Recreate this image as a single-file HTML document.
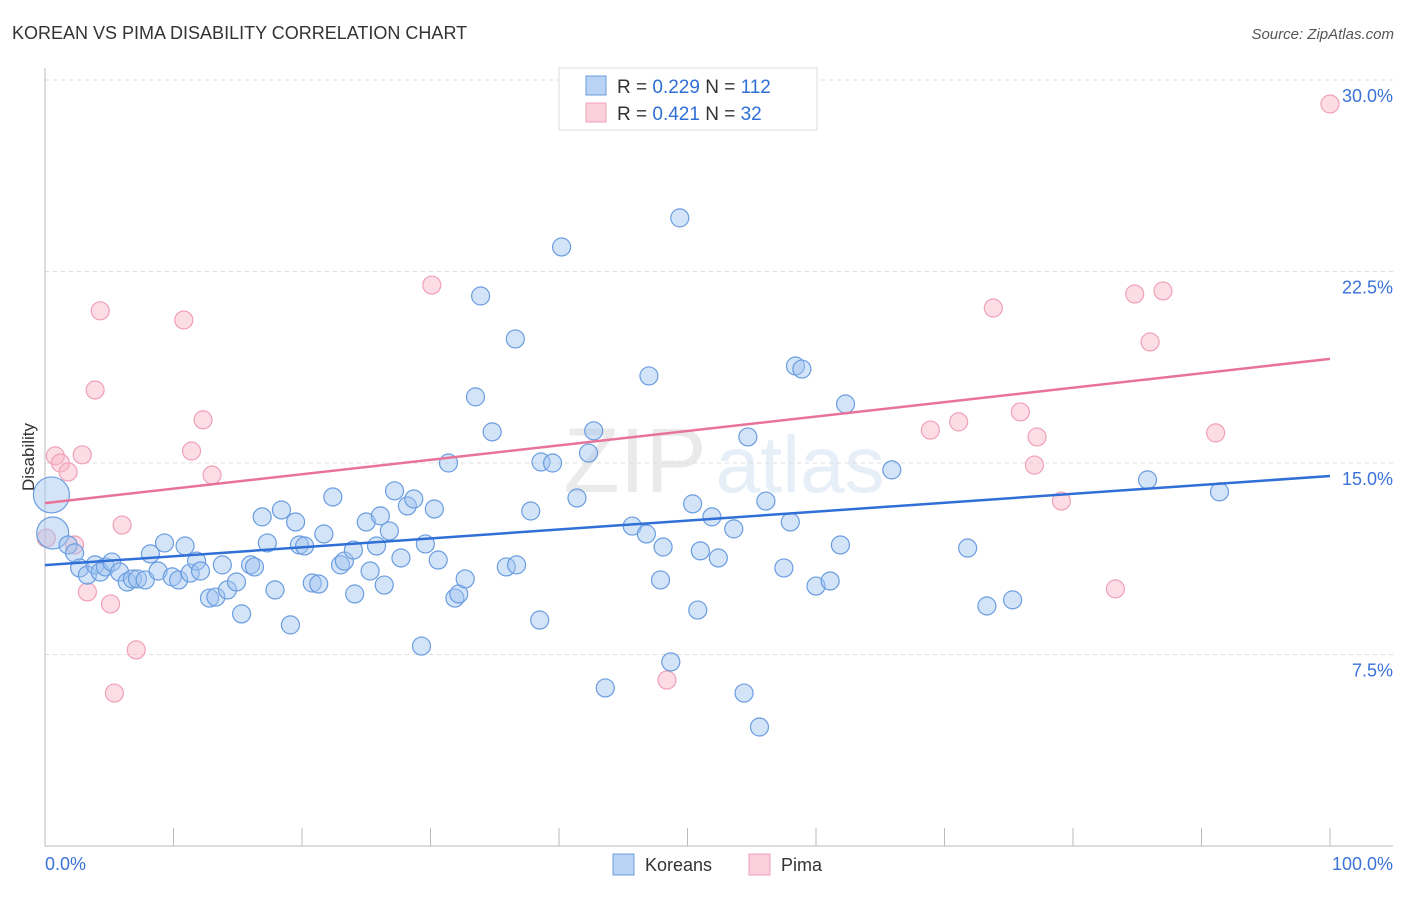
<!DOCTYPE html>
<html><head><meta charset="utf-8"><style>
body{margin:0;background:#fff;font-family:"Liberation Sans",sans-serif}
svg text{font-family:"Liberation Sans",sans-serif}
</style></head><body>
<svg id="chart" width="1406" height="892">
<text x="12" y="39" font-size="18" fill="#333">KOREAN VS PIMA DISABILITY CORRELATION CHART</text>
<text x="1394" y="39" font-size="15" fill="#555" text-anchor="end" font-style="italic">Source: ZipAtlas.com</text>
<g opacity="0.13">
<text x="635" y="492" font-size="92" font-family="Liberation Serif" fill="#666" text-anchor="middle">ZIP</text>
<text x="800" y="492" font-size="80" fill="#4a7fd0" text-anchor="middle">atlas</text>
</g>
<g id="grid"></g>
<g id="axes"></g>
<g id="marks"></g>
<text x="34" y="457" font-size="17" fill="#333" text-anchor="middle" transform="rotate(-90 34 457)">Disability</text>
<text x="45" y="870" font-size="18" fill="#3b72d9">0.0%</text>
<text x="1393" y="870" font-size="18" fill="#3b72d9" text-anchor="end">100.0%</text>
<g>
<rect x="559" y="68" width="258" height="62" fill="#fff" stroke="#ddd"/>
<rect x="586" y="76" width="20" height="19" fill="#b9d3f5" stroke="#6a9de0"/>
<text x="617" y="93" font-size="19" fill="#333">R = <tspan fill="#2f6fd6">0.229</tspan>   N = <tspan fill="#2f6fd6">112</tspan></text>
<rect x="586" y="103" width="20" height="19" fill="#fbd0dd" stroke="#f0a0b8"/>
<text x="617" y="120" font-size="19" fill="#333">R = <tspan fill="#2f6fd6"> 0.421</tspan>   N = <tspan fill="#2f6fd6"> 32</tspan></text>
</g>
<g>
<rect x="613" y="854" width="21" height="21" fill="#b9d3f5" stroke="#6a9de0"/>
<text x="645" y="871" font-size="18" fill="#333">Koreans</text>
<rect x="749" y="854" width="21" height="21" fill="#fbd0dd" stroke="#f0a0b8"/>
<text x="781" y="871" font-size="18" fill="#333">Pima</text>
</g>
</svg>
<script>
const koreansX=[0.5,0.6,1.8,2.3,2.7,3.3,3.9,4.3,4.7,5.2,5.8,6.4,6.8,7.2,7.8,8.2,8.8,9.3,9.9,10.4,10.9,11.3,11.8,12.1,12.8,13.3,13.8,14.2,14.9,15.3,16.0,16.3,16.9,17.3,17.9,18.4,19.1,19.5,19.8,20.2,20.8,21.3,21.7,22.4,23.0,23.3,24.0,24.1,25.0,25.3,25.8,26.1,26.4,26.8,27.2,27.7,28.2,28.7,29.3,29.6,30.3,30.6,31.4,31.9,32.2,32.7,33.5,33.9,34.8,35.9,36.6,36.7,37.8,38.5,38.6,39.5,40.2,41.4,42.3,42.7,43.6,45.7,46.8,47.0,47.9,48.1,48.7,49.4,50.4,50.8,51.0,51.9,52.4,53.6,54.4,54.7,55.6,56.1,57.5,58.0,58.4,58.9,60.0,61.1,61.9,62.3,65.9,71.8,73.3,75.3,85.8,91.4];
const koreansY=[13.75,12.26,11.79,11.48,10.89,10.61,11.01,10.73,10.93,11.12,10.73,10.34,10.46,10.46,10.42,11.44,10.77,11.87,10.54,10.42,11.75,10.69,11.16,10.77,9.71,9.75,11.01,10.03,10.34,9.09,11.01,10.93,12.89,11.87,10.03,13.16,8.66,12.69,11.79,11.75,10.30,10.26,12.22,13.67,11.01,11.16,11.59,9.87,12.69,10.77,11.75,12.93,10.22,12.34,13.91,11.28,13.32,13.59,7.83,11.83,13.20,11.20,15.00,9.71,9.87,10.46,17.59,21.54,16.22,10.93,19.86,11.01,13.12,8.85,15.04,15.00,23.46,13.63,15.39,16.26,6.19,12.53,12.22,18.41,10.42,11.71,7.21,24.60,13.40,9.24,11.56,12.89,11.28,12.42,5.99,16.02,4.66,13.51,10.89,12.69,18.80,18.68,10.18,10.38,11.79,17.31,14.73,11.67,9.40,9.64,14.34,13.87];
const koreansBig=[18,16];
const pimaX=[0.1,0.8,1.2,1.8,2.3,2.9,3.3,3.9,4.3,5.1,5.4,6.0,7.1,10.8,11.4,12.3,13.0,30.1,48.4,68.9,71.1,73.8,75.9,77.0,77.2,79.1,83.3,84.8,86.0,87.0,91.1,100];
const pimaY=[12.06,15.28,15.00,14.65,11.79,15.32,9.95,17.86,20.96,9.48,5.99,12.57,7.68,20.60,15.47,16.69,14.53,21.97,6.50,16.29,16.61,21.07,17.00,14.92,16.02,13.51,10.07,21.62,19.74,21.74,16.18,29.06];
const koreansTrend=[11.0,14.49];
const pimaTrend=[13.43,19.08];
const yTicks=[7.5,15.0,22.5,30.0];
const yTickLabels=["7.5%","15.0%","22.5%","30.0%"];
const xTicks=[0,10,20,30,40,50,60,70,80,90,100];

const NS="http://www.w3.org/2000/svg";
const X=v=>45+v*12.85;
const Y=v=>846-v*25.533;
function mk(tag,attrs,parent){const e=document.createElementNS(NS,tag);for(const k in attrs)e.setAttribute(k,attrs[k]);document.getElementById(parent).appendChild(e);return e;}
yTicks.forEach((t,i)=>{
  const g=mk('line',{x1:45,x2:1393,y1:Y(t),y2:Y(t),stroke:'#ddd','stroke-dasharray':'4,4'},'grid');
  
  
  const tx=mk('text',{x:1393,y:Y(t)+22,'font-size':18,fill:'#3b72d9','text-anchor':'end'},'grid');
  tx.textContent=yTickLabels[i];
  
  
});
const ax=mk('line',{x1:45,x2:1393,y1:846,y2:846,stroke:'#bbb'},'axes');


const ay=mk('line',{x1:45,x2:45,y1:68,y2:846,stroke:'#bbb'},'axes');


xTicks.forEach(t=>{
  const l=mk('line',{x1:X(t),x2:X(t),y1:828,y2:846,stroke:'#bbb'},'axes');
  
  
});
pimaX.forEach((x,i)=>{
  const c=mk('circle',{cx:X(x),cy:Y(pimaY[i]),r:9,fill:'rgba(248,180,200,0.45)',stroke:'#f0a0b8','stroke-width':1.2},'marks');
  
  
});
koreansX.forEach((x,i)=>{
  const r=i<koreansBig.length?koreansBig[i]:9;
  const c=mk('circle',{cx:X(x),cy:Y(koreansY[i]),r:r,fill:'rgba(160,195,240,0.45)',stroke:'#6a9de0','stroke-width':1.2},'marks');
  
  
});
const tb=mk('line',{x1:X(0),x2:X(100),y1:Y(koreansTrend[0]),y2:Y(koreansTrend[1]),stroke:'#2f6fd6','stroke-width':2.5},'marks');


const tp=mk('line',{x1:X(0),x2:X(100),y1:Y(pimaTrend[0]),y2:Y(pimaTrend[1]),stroke:'#e8739a','stroke-width':2.5},'marks');


</script>
</body></html>
